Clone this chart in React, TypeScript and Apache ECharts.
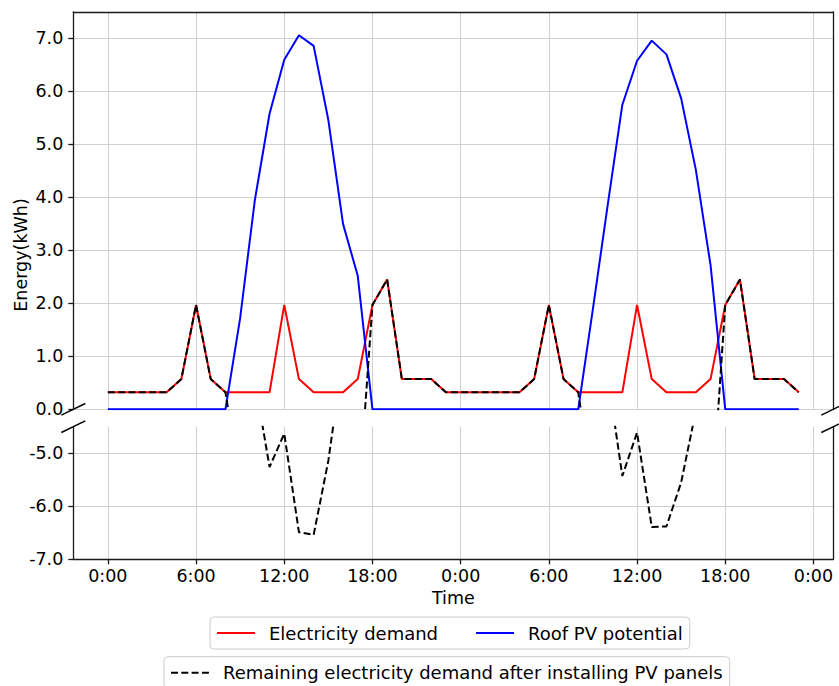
import React, { useEffect, useRef } from 'react';
import * as echarts from 'echarts';

// ---- data (hourly, two days) ----
const hours = [
  0, 1, 2, 3, 4, 5, 6, 7, 8, 9, 10, 11, 12, 13, 14, 15, 16, 17, 18, 19, 20, 21, 22, 23,
  24, 25, 26, 27, 28, 29, 30, 31, 32, 33, 34, 35, 36, 37, 38, 39, 40, 41, 42, 43, 44, 45, 46, 47,
];

const electricityDemand = [
  0.32, 0.32, 0.32, 0.32, 0.32, 0.57, 1.97, 0.57, 0.32, 0.32, 0.32, 0.32,
  1.97, 0.57, 0.32, 0.32, 0.32, 0.57, 1.97, 2.45, 0.57, 0.57, 0.57, 0.32,
  0.32, 0.32, 0.32, 0.32, 0.32, 0.57, 1.97, 0.57, 0.32, 0.32, 0.32, 0.32,
  1.97, 0.57, 0.32, 0.32, 0.32, 0.57, 1.97, 2.45, 0.57, 0.57, 0.57, 0.32,
];

const roofPV = [
  0, 0, 0, 0, 0, 0, 0, 0, 0, 1.72, 3.95, 5.58,
  6.6, 7.06, 6.86, 5.46, 3.5, 2.52, 0, 0, 0, 0, 0, 0,
  0, 0, 0, 0, 0, 0, 0, 0, 0, 1.9, 3.85, 5.75,
  6.58, 6.96, 6.7, 5.87, 4.52, 2.72, 0, 0, 0, 0, 0, 0,
];

const remainingDemand = [
  0.32, 0.32, 0.32, 0.32, 0.32, 0.57, 1.97, 0.57, 0.32, -1.4, -3.63, -5.26,
  -4.63, -6.49, -6.54, -5.14, -3.18, -1.95, 1.97, 2.45, 0.57, 0.57, 0.57, 0.32,
  0.32, 0.32, 0.32, 0.32, 0.32, 0.57, 1.97, 0.57, 0.32, -1.58, -3.53, -5.43,
  -4.61, -6.39, -6.38, -5.55, -4.2, -2.15, 1.97, 2.45, 0.57, 0.57, 0.57, 0.32,
];

const xTickValues = [0, 6, 12, 18, 24, 30, 36, 42, 48];
const xTickLabels = ['0:00', '6:00', '12:00', '18:00', '0:00', '6:00', '12:00', '18:00', '0:00'];
const upperYTicks = [0, 1, 2, 3, 4, 5, 6, 7];
const lowerYTicks = [-7, -6, -5];

const NAME_DEMAND = 'Electricity demand';
const NAME_PV = 'Roof PV potential';
const NAME_REMAIN = 'Remaining electricity demand after installing PV panels';

// ---- layout / style ----
const FONT = 'DejaVu Sans';
const GL = 73.3;
const GW = 760;
const T1 = 12;
const H1 = 397.3;
const T2 = 426.7;
const H2 = 132.6;
const X_MIN = -2.35;
const X_MAX = 49.35;

const SPINE = '#1a1a1a';
const GRID = '#d0d0d0';

const pair = (ys: number[]) => ys.map((y, i) => [hours[i], y]);

export default function App() {
  const ref = useRef<HTMLDivElement>(null);

  useEffect(() => {
    document.body.style.margin = '0';
    if (!ref.current) return;
    const chart = echarts.init(ref.current, null, { renderer: 'svg' });

    const labelStyle = { color: '#000', fontFamily: FONT, fontSize: 17.5 };
    const spine = { show: true, onZero: false, lineStyle: { color: SPINE, width: 1.3 } };
    const gridLine = { show: true, lineStyle: { color: GRID, width: 1 } };
    const tick = (vals: number[]) => ({
      show: true,
      customValues: vals,
      length: 5,
      inside: false,
      lineStyle: { color: SPINE, width: 1.3 },
    });

    const breakMark = (cx: number, cy: number) => ({
      type: 'line',
      z: 100,
      shape: { x1: cx - 12, y1: cy + 5.8, x2: cx + 12, y2: cy - 5.8 },
      style: { stroke: '#000', lineWidth: 1.4 },
    });

    const legendCommon = {
      orient: 'horizontal',
      padding: [7, 7, 7, 6],
      itemGap: 37,
      itemWidth: 38,
      itemHeight: 14,
      borderColor: '#cccccc',
      borderWidth: 1,
      borderRadius: 4,
      backgroundColor: '#fff',
      selectedMode: false,
      itemStyle: { opacity: 0 },
      textStyle: { color: '#000', fontFamily: FONT, fontSize: 18, padding: [0, 0, 0, 9] },
    };

    const option: any = {
      animation: false,
      backgroundColor: '#fff',
      grid: [
        { left: GL, top: T1, width: GW, height: H1 },
        { left: GL, top: T2, width: GW, height: H2 },
      ],
      xAxis: [
        {
          type: 'value',
          gridIndex: 0,
          position: 'top',
          min: X_MIN,
          max: X_MAX,
          axisLine: spine,
          axisTick: { show: false, customValues: xTickValues },
          axisLabel: { show: false, customValues: xTickValues },
          splitLine: gridLine,
        },
        {
          type: 'value',
          gridIndex: 1,
          position: 'bottom',
          min: X_MIN,
          max: X_MAX,
          axisLine: spine,
          axisTick: tick(xTickValues),
          axisLabel: {
            show: true,
            customValues: xTickValues,
            margin: 8,
            formatter: (v: number) => {
              const i = xTickValues.indexOf(v);
              return i >= 0 ? xTickLabels[i] : '';
            },
            ...labelStyle,
          },
          splitLine: gridLine,
          name: 'Time',
          nameLocation: 'middle',
          nameGap: 30,
          nameTextStyle: labelStyle,
        },
      ],
      yAxis: [
        {
          type: 'value',
          gridIndex: 0,
          min: 0,
          max: 7.5,
          axisLine: spine,
          axisTick: tick(upperYTicks),
          axisLabel: {
            customValues: upperYTicks,
            margin: 10,
            formatter: (v: number) => v.toFixed(1),
            ...labelStyle,
          },
          splitLine: gridLine,
        },
        {
          type: 'value',
          gridIndex: 1,
          min: -7,
          max: -4.5,
          axisLine: spine,
          axisTick: tick(lowerYTicks),
          axisLabel: {
            customValues: lowerYTicks,
            margin: 10,
            formatter: (v: number) => v.toFixed(1),
            ...labelStyle,
          },
          splitLine: gridLine,
        },
        {
          type: 'value',
          gridIndex: 0,
          position: 'right',
          min: 0,
          max: 7.5,
          axisLine: spine,
          axisTick: { show: false },
          axisLabel: { show: false },
          splitLine: { show: false },
        },
        {
          type: 'value',
          gridIndex: 1,
          position: 'right',
          min: -7,
          max: -4.5,
          axisLine: spine,
          axisTick: { show: false },
          axisLabel: { show: false },
          splitLine: { show: false },
        },
      ],
      legend: [
        { ...legendCommon, data: [NAME_DEMAND, NAME_PV], left: 210, top: 617 },
        { ...legendCommon, data: [NAME_REMAIN], left: 164, top: 656.7 },
      ],
      series: [
        {
          name: NAME_DEMAND,
          type: 'line',
          xAxisIndex: 0,
          yAxisIndex: 0,
          data: pair(electricityDemand),
          symbol: 'none',
          lineStyle: { color: '#ff0000', width: 2 },
          itemStyle: { color: '#ff0000' },
          z: 2,
        },
        {
          name: NAME_PV,
          type: 'line',
          xAxisIndex: 0,
          yAxisIndex: 0,
          data: pair(roofPV),
          symbol: 'none',
          lineStyle: { color: '#0000ff', width: 2 },
          itemStyle: { color: '#0000ff' },
          z: 3,
        },
        {
          name: NAME_REMAIN,
          type: 'line',
          xAxisIndex: 0,
          yAxisIndex: 0,
          data: pair(remainingDemand),
          symbol: 'none',
          lineStyle: { color: '#000000', width: 2, type: [7, 3.3] },
          itemStyle: { color: '#000000' },
          z: 4,
        },
        {
          name: NAME_REMAIN,
          type: 'line',
          xAxisIndex: 1,
          yAxisIndex: 1,
          data: pair(remainingDemand),
          symbol: 'none',
          lineStyle: { color: '#000000', width: 2, type: [7, 3.3] },
          itemStyle: { color: '#000000' },
          z: 4,
        },
      ],
      graphic: [
        breakMark(GL, T1 + H1),
        breakMark(GL, T2),
        breakMark(GL + GW, T1 + H1),
        breakMark(GL + GW, T2),
        {
          type: 'text',
          x: 20.8,
          y: 255,
          rotation: Math.PI / 2,
          z: 100,
          style: {
            text: 'Energy(kWh)',
            fontFamily: FONT,
            fontSize: 17.5,
            fill: '#000',
            align: 'center',
            verticalAlign: 'middle',
          },
        },
      ],
    };

    chart.setOption(option);
    return () => chart.dispose();
  }, []);

  return <div ref={ref} style={{ width: 839, height: 686 }} />;
}
